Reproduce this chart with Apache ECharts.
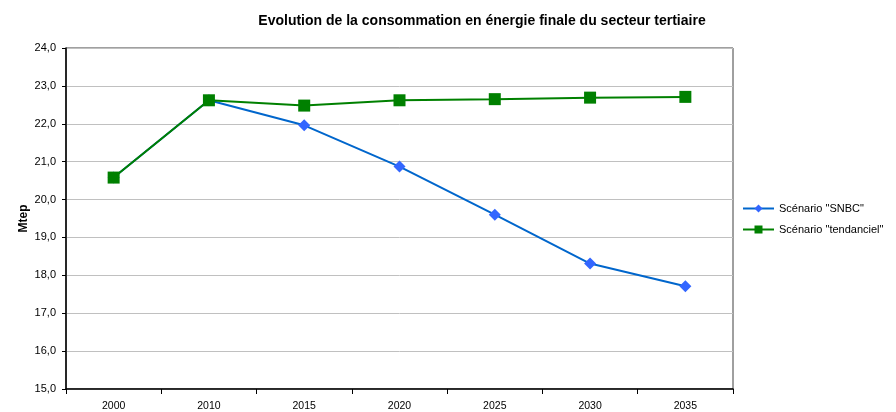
<!DOCTYPE html>
<html>
<head>
<meta charset="utf-8">
<script src="https://cdn.jsdelivr.net/npm/echarts@6/dist/echarts.min.js"></script>
<style>
  html, body { margin: 0; padding: 0; background: #fff; }
  #chart { width: 896px; height: 412px; }
</style>
</head>
<body>
<div id="chart"></div>
<script>
// Years on the horizontal axis
const years = ['2000', '2010', '2015', '2020', '2025', '2030', '2035'];
// Final energy consumption of the tertiary sector (Mtep)
const snbc = [20.58, 22.62, 21.96, 20.87, 19.6, 18.31, 17.71];
const tendanciel = [20.58, 22.62, 22.48, 22.62, 22.65, 22.69, 22.71];

const FONT = 'Liberation Sans, Arial, sans-serif';
const chart = echarts.init(document.getElementById('chart'), null, { renderer: 'canvas' });

chart.setOption({
  backgroundColor: '#ffffff',
  animation: false,
  title: {
    text: 'Evolution de la consommation en énergie finale du secteur tertiaire',
    left: 477, top: 9, textAlign: 'center',
    textStyle: { fontFamily: FONT, fontSize: 14, fontWeight: 'bold', color: '#000' }
  },
  grid: { left: 66, right: 163, top: 48, bottom: 23, show: true, borderColor: '#404040', borderWidth: 1 },
  legend: {
    orient: 'vertical', left: 737, top: 198, itemGap: 10,
    itemWidth: 31, itemHeight: 10,
    textStyle: { fontFamily: FONT, fontSize: 11, color: '#000' },
    data: ['Scénario "SNBC"', 'Scénario "tendanciel"']
  },
  xAxis: {
    type: 'category', data: years, boundaryGap: true,
    axisLine: { lineStyle: { color: '#000', width: 1.5 } },
    axisTick: { show: true, inside: false, length: 5, lineStyle: { color: '#000' } },
    axisLabel: { fontFamily: FONT, fontSize: 10.5, color: '#000', margin: 12 }
  },
  yAxis: {
    type: 'value', min: 15, max: 24, interval: 1,
    name: 'Mtep', nameLocation: 'middle', nameGap: 36, nameMoveOverlap: false,
    nameTextStyle: { fontFamily: FONT, fontSize: 12, fontWeight: 'bold', color: '#000' },
    axisLine: { show: true, lineStyle: { color: '#000', width: 1.5 } },
    axisTick: { show: true, length: 4, lineStyle: { color: '#000' } },
    axisLabel: { fontFamily: FONT, fontSize: 11, color: '#000', margin: 10,
      formatter: v => v.toFixed(1).replace('.', ',') },
    splitLine: { show: true, lineStyle: { color: '#c0c0c0', width: 1 } }
  },
  series: [
    {
      name: 'Scénario "SNBC"', type: 'line', data: snbc,
      symbol: 'diamond', symbolSize: 12,
      lineStyle: { color: '#0066cc', width: 2 },
      itemStyle: { color: '#3366ff' }
    },
    {
      name: 'Scénario "tendanciel"', type: 'line', data: tendanciel,
      symbol: 'rect', symbolSize: 12,
      lineStyle: { color: '#008000', width: 2 },
      itemStyle: { color: '#008000' }
    }
  ]
});
</script>
</body>
</html>
